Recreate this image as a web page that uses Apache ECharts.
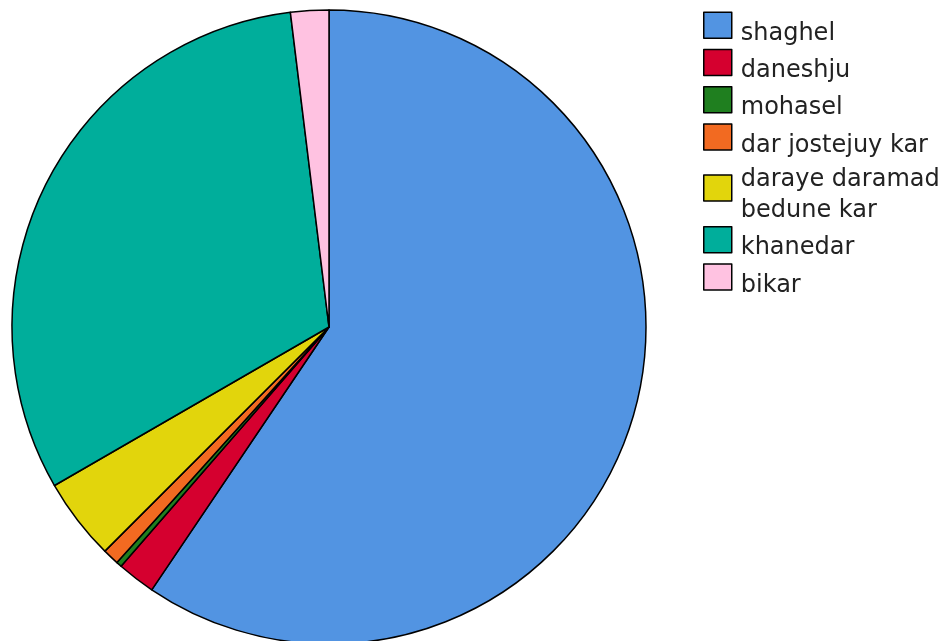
<!DOCTYPE html>
<html>
<head>
<meta charset="utf-8">
<script src="https://cdn.jsdelivr.net/npm/echarts@6/dist/echarts.min.js"></script>
<style>
html,body{margin:0;padding:0;background:#fff;}
#chart{width:949px;height:641px;}
</style>
</head>
<body>
<div id="chart"></div>
<script>
const categories = ['shaghel', 'daneshju', 'mohasel', 'dar jostejuy kar', 'daraye daramad\nbedune kar', 'khanedar', 'bikar'];
const counts = [214, 7, 1, 3, 15, 113, 7];
const colors = ['#5294E2', '#D5002F', '#1F7F1F', '#F26A21', '#E2D50C', '#00AE9B', '#FFC2E1'];

const font = { fontFamily: 'DejaVu Sans', fontSize: 24, color: '#222' };
const chart = echarts.init(document.getElementById('chart'), null, {renderer: 'canvas'});
chart.setOption({
  animation: false,
  color: colors,
  legend: {
    orient: 'vertical',
    left: 698,
    top: 6.5,
    itemWidth: 28,
    itemHeight: 26,
    itemGap: 3,
    icon: 'rect',
    selectedMode: false,
    itemStyle: { borderColor: '#000', borderWidth: 1.5 },
    formatter: function (name) {
      const lines = name.split('\n');
      if (lines.length === 1) return '{s| }{t|' + name + '}';
      return '{m| }{t|' + lines[0] + '}\n{n| }{b|' + lines[1] + '}';
    },
    textStyle: Object.assign({
      rich: {
        s: Object.assign({ width: 4, lineHeight: 41 }, font),
        m: Object.assign({ width: 4, lineHeight: 39 }, font),
        n: Object.assign({ width: 4, lineHeight: 31 }, font),
        t: Object.assign({ lineHeight: 27, verticalAlign: 'bottom' }, font),
        b: Object.assign({ lineHeight: 27, verticalAlign: 'bottom' }, font)
      }
    }, font),
    data: categories
  },
  series: [{
    type: 'pie',
    center: [329, 327],
    radius: 317,
    startAngle: 90,
    clockwise: true,
    silent: true,
    label: { show: false },
    labelLine: { show: false },
    itemStyle: { borderColor: '#000', borderWidth: 1.5 },
    data: categories.map((c, i) => ({ name: c, value: counts[i] }))
  }]
});
</script>
</body>
</html>
